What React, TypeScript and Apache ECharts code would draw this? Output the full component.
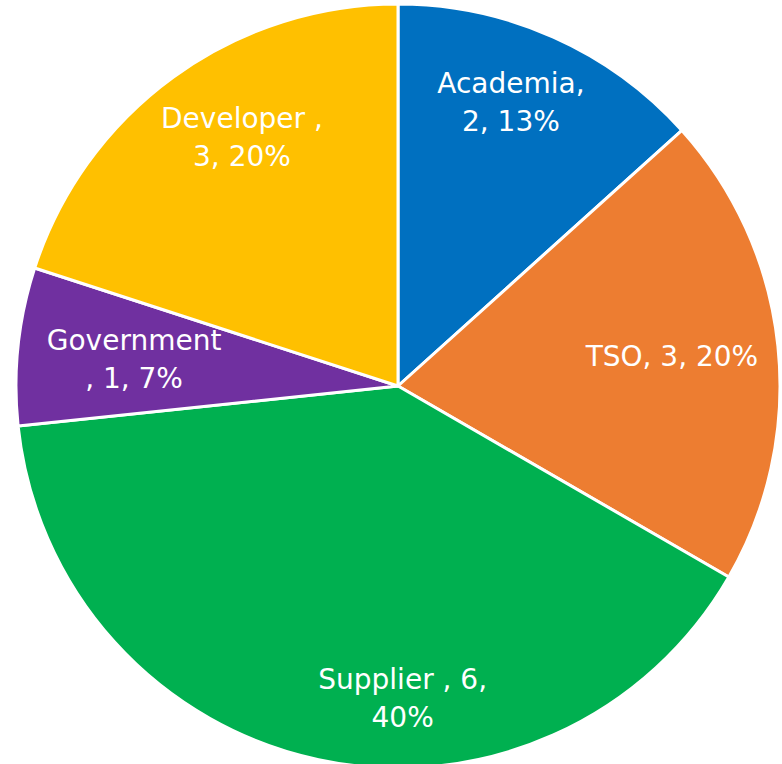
import React, { useEffect, useRef } from "react";
import * as echarts from "echarts";

const categories = ["Academia", "TSO", "Supplier ", "Government ", "Developer "];
const values = [2, 3, 6, 1, 3];
const colors = ["#0070C0", "#ED7D31", "#00B050", "#7030A0", "#FFC000"];
// character index in the full label where the line wraps (-1 = no wrap)
const wrapAt = [9, -1, 13, 11, 11];
// label nudges from the default inside position (px)
const labelOffsets: [number, number][] = [
  [34, -106],
  [81, -9],
  [45, 123],
  [-71, -6],
  [-42, -92],
];

export default function App() {
  const ref = useRef<HTMLDivElement>(null);
  useEffect(() => {
    document.body.style.margin = "0";
    if (!ref.current) return;
    const chart = echarts.init(ref.current, null, { renderer: "svg" });
    const total = values.reduce((a, b) => a + b, 0);
    const data = categories.map((name, i) => {
      const pct = Math.round((values[i] / total) * 100);
      const full = `${name}, ${values[i]}, ${pct}%`;
      const w = wrapAt[i];
      const text = w < 0 ? full : full.slice(0, w).trim() + "\n" + full.slice(w).trim();
      return {
        name,
        value: values[i],
        itemStyle: { color: colors[i] },
        label: { formatter: text, offset: labelOffsets[i] },
      };
    });
    chart.setOption({
      animation: false,
      series: [
        {
          type: "pie",
          center: [398, 386],
          radius: 382,
          startAngle: 90,
          clockwise: true,
          avoidLabelOverlap: false,
          itemStyle: { borderColor: "#ffffff", borderWidth: 3 },
          label: {
            show: true,
            position: "inside",
            color: "#ffffff",
            fontFamily: "DejaVu Sans",
            fontSize: 28,
            lineHeight: 38,
            align: "center",
            textBorderWidth: 0,
          },
          labelLine: { show: false },
          emphasis: { disabled: true },
          data,
        },
      ],
    });
    return () => chart.dispose();
  }, []);
  return <div ref={ref} style={{ width: 782, height: 764 }} />;
}
